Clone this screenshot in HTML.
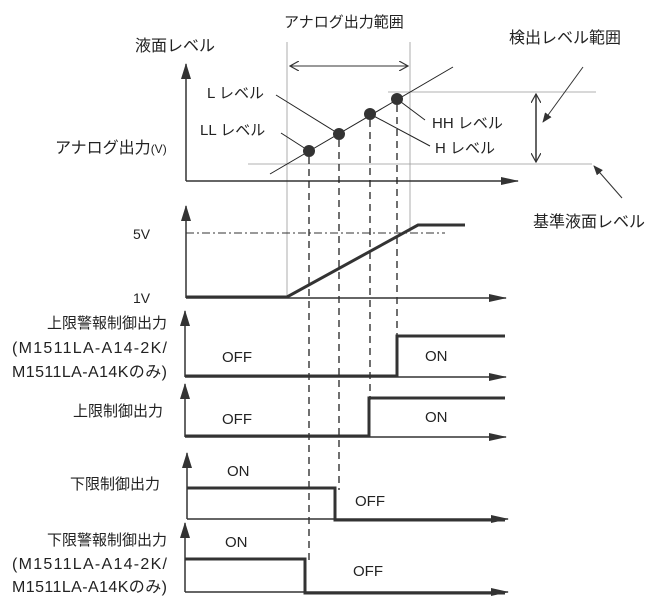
<!DOCTYPE html>
<html><head><meta charset="utf-8"><style>
body{margin:0;background:#fff;}
svg{display:block}
text{font-family:"Liberation Sans","Noto Sans CJK JP",sans-serif;fill:#222;}
</style></head><body>
<svg width="670" height="610" viewBox="0 0 670 610" xmlns="http://www.w3.org/2000/svg">
<defs>
<marker id="ah" markerWidth="10" markerHeight="8" refX="9" refY="4" orient="auto" markerUnits="userSpaceOnUse"><path d="M0,0 L10,4 L0,8 z" fill="#333"/></marker>
<marker id="oa" markerWidth="10" markerHeight="10" refX="9" refY="5" orient="auto" markerUnits="userSpaceOnUse"><path d="M0,0 L9,5 L0,10" fill="none" stroke="#333" stroke-width="1.2"/></marker>
<marker id="oas" markerWidth="10" markerHeight="10" refX="1" refY="5" orient="auto" markerUnits="userSpaceOnUse"><path d="M10,0 L1,5 L10,10" fill="none" stroke="#333" stroke-width="1.2"/></marker>
<marker id="big" markerWidth="18" markerHeight="10" refX="17" refY="5" orient="auto" markerUnits="userSpaceOnUse"><path d="M0,1 L18,5 L0,9 z" fill="#333"/></marker>
<marker id="up" markerWidth="16" markerHeight="10" refX="15" refY="5" orient="auto" markerUnits="userSpaceOnUse"><path d="M0,0 L16,5 L0,10 z" fill="#333"/></marker>
</defs>
<text x="135" y="51" font-size="16">液面レベル</text>
<text x="55" y="153" font-size="16">アナログ出力<tspan font-size="12">(V)</tspan></text>
<text x="284" y="27" font-size="15">アナログ出力範囲</text>
<text x="509" y="43" font-size="16">検出レベル範囲</text>
<text x="533" y="227" font-size="16">基準液面レベル</text>
<text x="207" y="98" font-size="15">L  レベル</text>
<text x="200" y="135" font-size="15">LL  レベル</text>
<text x="432" y="128" font-size="15">HH  レベル</text>
<text x="435" y="153" font-size="15">H  レベル</text>
<g stroke="#999" stroke-width="0.8">
<line x1="287" y1="42" x2="287" y2="298"/>
<line x1="410" y1="42" x2="410" y2="232"/>
<line x1="388" y1="92" x2="596" y2="92"/>
<line x1="248" y1="164" x2="592" y2="164"/>
</g>
<line x1="290" y1="66" x2="408" y2="66" stroke="#333" stroke-width="1" marker-end="url(#oa)" marker-start="url(#oas)"/>
<line x1="536" y1="94" x2="536" y2="162" stroke="#333" stroke-width="1.5" marker-end="url(#oa)" marker-start="url(#oas)"/>
<line x1="583" y1="67" x2="543" y2="122" stroke="#333" stroke-width="1" marker-end="url(#ah)"/>
<line x1="622" y1="198" x2="594" y2="166" stroke="#333" stroke-width="1" marker-end="url(#ah)"/>
<line x1="186" y1="181" x2="186" y2="64" stroke="#333" stroke-width="1.5" marker-end="url(#up)"/>
<line x1="186" y1="181" x2="518" y2="181" stroke="#333" stroke-width="1.5" marker-end="url(#big)"/>
<line x1="270" y1="174" x2="453" y2="67" stroke="#222" stroke-width="1"/>
<g stroke="#222" stroke-width="1">
<line x1="276" y1="95" x2="339" y2="134"/>
<line x1="281" y1="133" x2="309" y2="151"/>
<line x1="397" y1="99" x2="425" y2="120"/>
<line x1="370" y1="114" x2="430" y2="146"/>
</g>
<g fill="#333"><circle cx="309" cy="151" r="6"/><circle cx="339" cy="134" r="6"/><circle cx="370" cy="114" r="6"/><circle cx="397" cy="99" r="6"/></g>
<g stroke="#222" stroke-width="1.3" stroke-dasharray="7,5">
<line x1="309" y1="157" x2="309" y2="560"/>
<line x1="339" y1="140" x2="339" y2="490"/>
<line x1="370" y1="120" x2="370" y2="400"/>
<line x1="397" y1="105" x2="397" y2="337"/>
</g>
<text x="133" y="239" font-size="14">5V</text>
<text x="133" y="303" font-size="14">1V</text>
<line x1="186" y1="298" x2="186" y2="206" stroke="#333" stroke-width="1.5" marker-end="url(#up)"/>
<line x1="186" y1="298" x2="506" y2="298" stroke="#333" stroke-width="1.5" marker-end="url(#big)"/>
<line x1="186" y1="233" x2="445" y2="233" stroke="#333" stroke-width="1" stroke-dasharray="8,3,2,3"/>
<polyline points="186,297 287,297 418,225 465,225" fill="none" stroke="#333" stroke-width="3"/>
<text x="167" y="328" font-size="15" text-anchor="end">上限警報制御出力</text>
<text x="12" y="353" font-size="16" textLength="155" fill="#555">(M1511LA-A14-2K/</text>
<text x="12" y="377" font-size="16" textLength="155" fill="#555">M1511LA-A14Kのみ)</text>
<line x1="185" y1="377" x2="185" y2="311" stroke="#333" stroke-width="1.5" marker-end="url(#up)"/>
<line x1="185" y1="377" x2="506" y2="377" stroke="#333" stroke-width="1.5" marker-end="url(#big)"/>
<polyline points="185,376 397,376 397,336 505,336" fill="none" stroke="#333" stroke-width="3"/>
<text x="222" y="362" font-size="15">OFF</text>
<text x="425" y="361" font-size="15">ON</text>
<text x="163" y="416" font-size="15" text-anchor="end">上限制御出力</text>
<line x1="185" y1="437" x2="185" y2="384" stroke="#333" stroke-width="1.5" marker-end="url(#up)"/>
<line x1="185" y1="437" x2="506" y2="437" stroke="#333" stroke-width="1.5" marker-end="url(#big)"/>
<polyline points="185,436 369,436 369,398 505,398" fill="none" stroke="#333" stroke-width="3"/>
<text x="222" y="424" font-size="15">OFF</text>
<text x="425" y="422" font-size="15">ON</text>
<text x="160" y="489" font-size="15" text-anchor="end">下限制御出力</text>
<line x1="187" y1="519" x2="187" y2="453" stroke="#333" stroke-width="1.5" marker-end="url(#up)"/>
<line x1="187" y1="519" x2="508" y2="519" stroke="#333" stroke-width="1.5" marker-end="url(#big)"/>
<polyline points="187,488 335,488 335,520 505,520" fill="none" stroke="#333" stroke-width="3"/>
<text x="227" y="476" font-size="15">ON</text>
<text x="355" y="506" font-size="15">OFF</text>
<text x="167" y="545" font-size="15" text-anchor="end">下限警報制御出力</text>
<text x="12" y="569" font-size="16" textLength="155" fill="#555">(M1511LA-A14-2K/</text>
<text x="12" y="592" font-size="16" textLength="155" fill="#555">M1511LA-A14Kのみ)</text>
<line x1="185" y1="592" x2="185" y2="523" stroke="#333" stroke-width="1.5" marker-end="url(#up)"/>
<line x1="185" y1="592" x2="508" y2="592" stroke="#333" stroke-width="1.5" marker-end="url(#big)"/>
<polyline points="185,559 305,559 305,593 505,593" fill="none" stroke="#333" stroke-width="3"/>
<text x="225" y="547" font-size="15">ON</text>
<text x="353" y="576" font-size="15">OFF</text>
</svg>
</body></html>
